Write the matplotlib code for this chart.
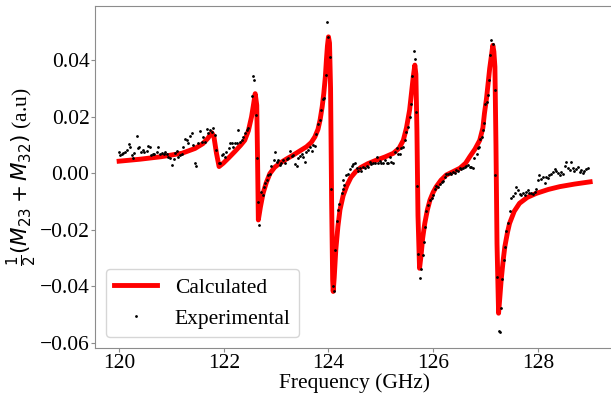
import numpy as np
import matplotlib.pyplot as plt

# calculated response
calc_freq = [120.00, 120.40, 120.81, 121.20, 121.45, 121.60, 121.70, 121.77, 121.81, 121.86,
             121.91, 121.99, 122.10, 122.21, 122.32, 122.40, 122.47, 122.53, 122.57, 122.60,
             122.63, 122.645, 122.66, 122.70, 122.75, 122.81, 122.88, 122.97, 123.07, 123.20,
             123.33, 123.45, 123.58, 123.67, 123.74, 123.80, 123.84, 123.88, 123.91, 123.94,
             123.96, 123.98, 124.00, 124.02, 124.04, 124.06, 124.08, 124.09, 124.11, 124.14,
             124.18, 124.22, 124.28, 124.35, 124.43, 124.52, 124.62, 124.75, 124.92, 125.08,
             125.24, 125.35, 125.43, 125.49, 125.55, 125.59, 125.62, 125.65, 125.67, 125.69,
             125.71, 125.74, 125.77, 125.80, 125.84, 125.89, 125.94, 126.00, 126.06, 126.15,
             126.25, 126.38, 126.51, 126.62, 126.70, 126.80, 126.89, 126.95, 126.98, 127.02,
             127.05, 127.08, 127.11, 127.14, 127.16, 127.18, 127.20, 127.22, 127.25, 127.27,
             127.30, 127.34, 127.37, 127.42, 127.46, 127.55, 127.65, 127.80, 127.97, 128.20,
             128.42, 128.70, 129.00]
calc_val = [0.0042, 0.0049, 0.0058, 0.0070, 0.0087, 0.0104, 0.0124, 0.0143, 0.0130, 0.0070,
            0.0023, 0.0035, 0.0055, 0.0076, 0.0098, 0.0116, 0.0150, 0.0199, 0.0245, 0.0281,
            0.0240, 0.0050, -0.0166, -0.0120, -0.0072, -0.0035, -0.0002, 0.0020, 0.0035, 0.0050,
            0.0064, 0.0078, 0.0093, 0.0108, 0.0128, 0.0155, 0.0188, 0.0235, 0.0281, 0.0340,
            0.0399, 0.0450, 0.0482, 0.0460, 0.0300, -0.0100, -0.0380, -0.0419, -0.0370, -0.0272,
            -0.0190, -0.0130, -0.0080, -0.0045, -0.0015, 0.0005, 0.0020, 0.0033, 0.0046, 0.0057,
            0.0070, 0.0088, 0.0116, 0.0160, 0.0223, 0.0290, 0.0341, 0.0382, 0.0350, 0.0150,
            -0.0150, -0.0337, -0.0290, -0.0230, -0.0178, -0.0130, -0.0095, -0.0068, -0.0048, -0.0025,
            -0.0007, 0.0005, 0.0017, 0.0035, 0.0058, 0.0085, 0.0116, 0.0160, 0.0211, 0.0265,
            0.0317, 0.0370, 0.0411, 0.0452, 0.0430, 0.0376, 0.0100, -0.0250, -0.0496, -0.0450,
            -0.0378, -0.0305, -0.0260, -0.0210, -0.0178, -0.0135, -0.0107, -0.0086, -0.0072, -0.0058,
            -0.0048, -0.0039, -0.0031]

# measured points
exp_freq = [119.99, 120.02, 120.05, 120.08, 120.11, 120.15, 120.18, 120.21, 120.24, 120.27,
            120.29, 120.34, 120.36, 120.38, 120.42, 120.45, 120.48, 120.53, 120.56, 120.59,
            120.61, 120.64, 120.67, 120.72, 120.74, 120.78, 120.81, 120.85, 120.88, 120.91,
            120.94, 120.97, 121.01, 121.04, 121.07, 121.10, 121.13, 121.16, 121.20, 121.23,
            121.26, 121.29, 121.32, 121.35, 121.39, 121.42, 121.45, 121.47, 121.51, 121.55,
            121.58, 121.61, 121.64, 121.67, 121.70, 121.74, 121.78, 121.80, 121.83, 121.86,
            121.90, 121.93, 121.96, 121.99, 122.02, 122.05, 122.09, 122.12, 122.15, 122.18,
            122.21, 122.25, 122.28, 122.31, 122.34, 122.37, 122.40, 122.44, 122.47, 122.53,
            122.56, 122.58, 122.61, 122.63, 122.66, 122.67, 122.72, 122.75, 122.77, 122.79,
            122.82, 122.85, 122.88, 122.91, 122.95, 122.98, 123.01, 123.04, 123.07, 123.10,
            123.14, 123.17, 123.20, 123.23, 123.26, 123.30, 123.33, 123.36, 123.39, 123.42,
            123.45, 123.49, 123.52, 123.55, 123.58, 123.61, 123.64, 123.68, 123.71, 123.74,
            123.77, 123.80, 123.84, 123.85, 123.89, 123.92, 123.95, 123.98, 124.00, 124.03,
            124.05, 124.08, 124.10, 124.13, 124.17, 124.19, 124.20, 124.25, 124.27, 124.28,
            124.30, 124.34, 124.38, 124.41, 124.44, 124.47, 124.50, 124.54, 124.57, 124.60,
            124.63, 124.66, 124.69, 124.73, 124.76, 124.79, 124.82, 124.85, 124.89, 124.92,
            124.95, 124.98, 125.01, 125.04, 125.08, 125.11, 125.14, 125.17, 125.20, 125.24,
            125.27, 125.30, 125.33, 125.36, 125.39, 125.43, 125.46, 125.49, 125.52, 125.55,
            125.58, 125.60, 125.63, 125.65, 125.68, 125.70, 125.72, 125.75, 125.77, 125.80,
            125.82, 125.84, 125.87, 125.90, 125.94, 125.97, 126.00, 126.03, 126.06, 126.09,
            126.13, 126.16, 126.19, 126.22, 126.25, 126.28, 126.32, 126.35, 126.38, 126.41,
            126.44, 126.48, 126.51, 126.54, 126.57, 126.60, 126.63, 126.67, 126.70, 126.73,
            126.76, 126.79, 126.83, 126.86, 126.88, 126.90, 126.93, 126.95, 126.97, 127.00,
            127.02, 127.04, 127.07, 127.09, 127.11, 127.14, 127.18, 127.19, 127.22, 127.25,
            127.27, 127.30, 127.32, 127.35, 127.37, 127.40, 127.43, 127.46, 127.49, 127.53,
            127.56, 127.59, 127.62, 127.65, 127.68, 127.72, 127.75, 127.78, 127.81, 127.84,
            127.87, 127.91, 127.94, 127.97, 128.00, 128.03, 128.07, 128.10, 128.13, 128.16,
            128.19, 128.22, 128.26, 128.29, 128.32, 128.35, 128.38, 128.42, 128.45, 128.48,
            128.51, 128.54, 128.57, 128.61, 128.64, 128.67, 128.70, 128.73, 128.77, 128.80,
            128.83, 128.86, 128.89, 128.92, 128.96]
exp_val = [0.0075, 0.0064, 0.0066, 0.0071, 0.0075, 0.0081, 0.0103, 0.0093, 0.0065, 0.0052,
           0.0071, 0.0131, 0.0087, 0.0093, 0.0075, 0.0081, 0.0075, 0.0079, 0.0095, 0.0091,
           0.0064, 0.0066, 0.0069, 0.0075, 0.0091, 0.0066, 0.0071, 0.0069, 0.0075, 0.0066,
           0.0058, 0.0052, 0.0030, 0.0048, 0.0071, 0.0079, 0.0058, 0.0064, 0.0066, 0.0093,
           0.0122, 0.0116, 0.0107, 0.0131, 0.0140, 0.0099, 0.0034, 0.0026, 0.0107, 0.0149,
           0.0110, 0.0128, 0.0110, 0.0157, 0.0143, 0.0151, 0.0145, 0.0160, 0.0134, 0.0081,
           0.0034, 0.0036, 0.0064, 0.0069, 0.0058, 0.0075, 0.0087, 0.0107, 0.0107, 0.0093,
           0.0105, 0.0105, 0.0151, 0.0110, 0.0116, 0.0128, 0.0140, 0.0151, 0.0161, 0.0272,
           0.0342, 0.0329, 0.0205, 0.0052, -0.0101, -0.0184, -0.0066, -0.0078, -0.0049, -0.0034,
           -0.0025, -0.0008, -0.0002, 0.0025, 0.0046, 0.0075, 0.0040, 0.0046, 0.0028, 0.0036,
           0.0046, 0.0034, 0.0048, 0.0055, 0.0077, 0.0060, 0.0065, 0.0031, 0.0026, 0.0052,
           0.0060, 0.0066, 0.0058, 0.0040, 0.0075, 0.0081, 0.0091, 0.0079, 0.0099, 0.0097,
           0.0138, 0.0173, 0.0189, 0.0224, 0.0261, 0.0266, 0.0346, 0.0535, 0.0482, 0.0411,
           -0.0055, -0.0400, -0.0416, -0.0272, -0.0169, -0.0129, -0.0110, -0.0070, -0.0055, -0.0025,
           -0.0043, -0.0008, -0.0002, 0.0013, 0.0025, 0.0031, 0.0036, 0.0017, 0.0008, 0.0017,
           0.0008, 0.0023, 0.0017, 0.0026, 0.0023, 0.0040, 0.0031, 0.0034, 0.0036, 0.0058,
           0.0036, 0.0043, 0.0036, 0.0034, 0.0046, 0.0034, 0.0037, 0.0058, 0.0038, 0.0034,
           0.0075, 0.0089, 0.0069, 0.0069, 0.0087, 0.0093, 0.0116, 0.0145, 0.0164, 0.0199,
           0.0244, 0.0342, 0.0432, 0.0405, 0.0217, -0.0046, -0.0287, -0.0372, -0.0340, -0.0290,
           -0.0243, -0.0190, -0.0133, -0.0113, -0.0095, -0.0087, -0.0078, -0.0058, -0.0047, -0.0050,
           -0.0037, -0.0031, -0.0027, -0.0013, -0.0002, -0.0004, 0.0001, -0.0004, 0.0004, 0.0001,
           0.0010, 0.0008, 0.0017, 0.0013, 0.0017, 0.0020, 0.0025, 0.0030, 0.0023, 0.0023,
           0.0017, 0.0052, 0.0066, 0.0087, 0.0093, 0.0119, 0.0128, 0.0154, 0.0176, 0.0246,
           0.0252, 0.0276, 0.0331, 0.0417, 0.0472, 0.0458, 0.0293, -0.0008, -0.0366, -0.0558,
           -0.0564, -0.0476, -0.0374, -0.0308, -0.0260, -0.0204, -0.0175, -0.0133, -0.0090, -0.0082,
           -0.0072, -0.0049, -0.0060, -0.0074, -0.0078, -0.0072, -0.0076, -0.0066, -0.0060, -0.0072,
           -0.0070, -0.0074, -0.0066, -0.0058, -0.0025, -0.0008, -0.0022, -0.0013, -0.0034, -0.0013,
           -0.0019, -0.0008, -0.0002, 0.0004, 0.0013, 0.0008, 0.0001, -0.0008, 0.0004, -0.0002,
           0.0025, 0.0040, 0.0017, 0.0010, 0.0040, 0.0017, 0.0008, 0.0013, 0.0023, 0.0004,
           0.0010, 0.0001, 0.0008, 0.0013, 0.0019]

plt.rcParams['font.family'] = 'serif'
plt.rcParams['font.serif'] = ['Liberation Serif', 'DejaVu Serif']
plt.rcParams['mathtext.fontset'] = 'dejavusans'
plt.rcParams['font.size'] = 15.5

fig = plt.figure(figsize=(6.11, 3.95), dpi=100)
ax = fig.add_axes([0.1555, 0.119, 0.849, 0.865])

ax.plot(calc_freq, calc_val, color='red', lw=3.5, label='Calculated')
ax.plot(exp_freq, exp_val, 'k.', ms=2, label='Experimental')

ax.set_xlabel('Frequency (GHz)')
ax.set_ylabel(r'$\frac{1}{2}(M_{23}+M_{32})$ (a.u)')
ax.xaxis.set_label_coords(0.5, -0.073)
ax.yaxis.set_label_coords(-0.108, 0.5)

# grey frame, short ticks sitting close to their labels
for spine in ax.spines.values():
    spine.set_color('0.55')
ax.tick_params(color='0.55', length=3, pad=1)

ax.legend(loc='lower left')

fig.savefig('out.png', dpi=100)
